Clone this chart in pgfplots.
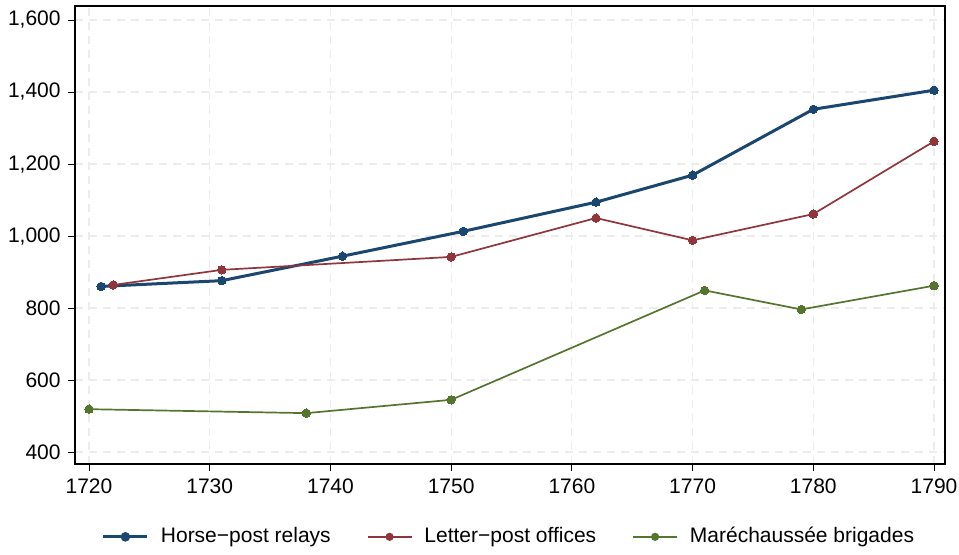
\documentclass[border=0pt]{standalone}
\usepackage{fontspec}
\setmainfont{Liberation Sans}
\usepackage{pgfplots}
\pgfplotsset{compat=1.18}
\definecolor{snavy}{RGB}{26,71,111}
\definecolor{smaroon}{RGB}{144,53,59}
\definecolor{sforest}{RGB}{85,117,47}
\definecolor{sgrid}{RGB}{236,236,236}
\begin{document}
\begin{tikzpicture}
\fontsize{10.5}{12}\selectfont
\useasboundingbox (-37.5pt,-45pt) rectangle (442pt,232pt);
\begin{axis}[
  at={(0,0)}, anchor=south west,
  scale only axis, width=435pt, height=229pt,
  xmin=1718.84, xmax=1790.91,
  ymin=366.7, ymax=1638.9,
  xtick={1720,1730,...,1790},
  ytick={400,600,...,1600},
  /pgf/number format/assume math mode=true,
  xticklabel style={/pgf/number format/1000 sep={}},
  yticklabel style={/pgf/number format/1000 sep={,}},
  tick align=outside, tick pos=left,
  major tick length=3.5pt,
  tick style={black, line width=0.5pt},
  axis line style={black, line width=0.6pt},
  grid=major,
  major grid style={sgrid, line width=0.6pt, dash pattern=on 4pt off 3pt},
  ticklabel style={font=\fontsize{10.5}{12}\selectfont},
  legend columns=3,
  legend style={draw=none, fill=none, at={(0.5,-0.159)}, anchor=center,
    font=\fontsize{10.5}{12}\selectfont,
    /tikz/every odd column/.append style={column sep=4pt},
    /tikz/every even column/.append style={column sep=16pt}},
  legend image code/.code={
    \draw[#1] (0pt,0pt) -- (22pt,0pt);
    \fill[#1] (11pt,0pt) circle (1.6pt);
  },
]
\addplot[snavy, line width=1.5pt, mark=*, mark size=2.1pt, mark options={solid, line width=0pt}]
coordinates {(1721,860) (1731,876) (1741,944) (1751,1013) (1762,1094) (1770,1169) (1780,1352) (1790,1405)};
\addlegendentry{Horse−post relays}
\addplot[smaroon, line width=0.85pt, mark=*, mark size=2.1pt, mark options={solid, line width=0pt}]
coordinates {(1722,864) (1731,906) (1750,942) (1762,1050) (1770,988) (1780,1061) (1790,1263)};
\addlegendentry{Letter−post offices}
\addplot[sforest, line width=0.85pt, mark=*, mark size=2.1pt, mark options={solid, line width=0pt}]
coordinates {(1720,519) (1738,508) (1750,545) (1771,849) (1779,796) (1790,862)};
\addlegendentry{Maréchaussée brigades}
\end{axis}
\end{tikzpicture}
\end{document}
